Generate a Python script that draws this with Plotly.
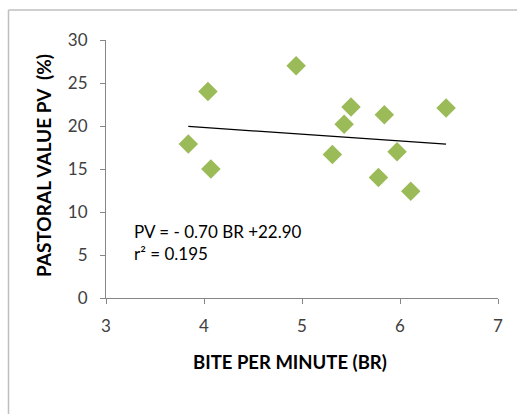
import plotly.graph_objects as go

bite_rate = [3.84, 4.04, 4.07, 4.94, 5.31, 5.43, 5.50, 5.84, 5.78, 5.97, 6.11, 6.47]
pastoral_value = [17.9, 24.0, 15.0, 27.0, 16.7, 20.2, 22.2, 21.3, 14.0, 17.0, 12.4, 22.1]

trend_x = [3.84, 6.47]
trend_y = [19.95, 17.9]

x_ticks = [3, 4, 5, 6, 7]
y_ticks = [0, 5, 10, 15, 20, 25, 30]

FONT = "Lato"
TXT = "#404040"
AX = "#868686"

fig = go.Figure()
fig.add_trace(go.Scatter(x=trend_x, y=trend_y, mode="lines",
                         line=dict(color="black", width=1.2), hoverinfo="skip"))
fig.add_trace(go.Scatter(x=bite_rate, y=pastoral_value, mode="markers",
                         marker=dict(symbol="diamond", size=15, color="#9BBB59",
                                     line=dict(width=0))))

L, R, T, B = 106, 19, 40, 116
W, H = 517, 414
pw, ph = W - L - R, H - T - B

def px(xp):
    return (xp - L) / pw

def py(yp):
    return (H - B - yp) / ph

fig.update_layout(
    width=W, height=H, showlegend=False,
    margin=dict(l=L, r=R, t=T, b=B, pad=0),
    paper_bgcolor="white", plot_bgcolor="white",
    font=dict(family=FONT, color=TXT, size=17),
    xaxis=dict(range=[3, 7], tickvals=x_ticks, showgrid=False, zeroline=False,
               showline=True, linecolor=AX, linewidth=1, ticks="outside",
               ticklen=5, tickcolor=AX, tickfont=dict(size=17, color=TXT),
               ticklabelstandoff=8),
    yaxis=dict(range=[0, 30], tickvals=y_ticks, showgrid=False, zeroline=False,
               showline=True, linecolor=AX, linewidth=1, ticks="outside",
               ticklen=5, tickcolor=AX, tickfont=dict(size=17, color=TXT),
               ticklabelstandoff=9),
    annotations=[
        dict(xref="x", yref="y", x=3.27, y=6.4, xanchor="left", yanchor="middle",
             text="PV = - 0.70 BR +22.90<br>r² = 0.195", showarrow=False, align="left",
             font=dict(size=17, color="black", family=FONT)),
        dict(xref="paper", yref="paper", x=px(290), y=py(362), xanchor="center", yanchor="middle",
             text="<b>BITE PER MINUTE (BR)</b>", showarrow=False,
             font=dict(size=18.5, color="black", family=FONT)),
        dict(xref="paper", yref="paper", x=px(43), y=py(166), xanchor="center", yanchor="middle",
             text="<b>PASTORAL VALUE PV  (%)</b>", showarrow=False, textangle=-90,
             font=dict(size=19, color="black", family=FONT)),
    ],
    shapes=[
        dict(type="line", xref="paper", yref="paper",
             x0=px(8.5), x1=px(8.5), y0=py(10), y1=py(430),
             line=dict(color="#BFBFBF", width=1.5)),
        dict(type="line", xref="paper", yref="paper",
             x0=px(8.5), x1=px(530), y0=py(10), y1=py(10),
             line=dict(color="#BFBFBF", width=1.5)),
    ],
)

fig.write_html("out.html")
